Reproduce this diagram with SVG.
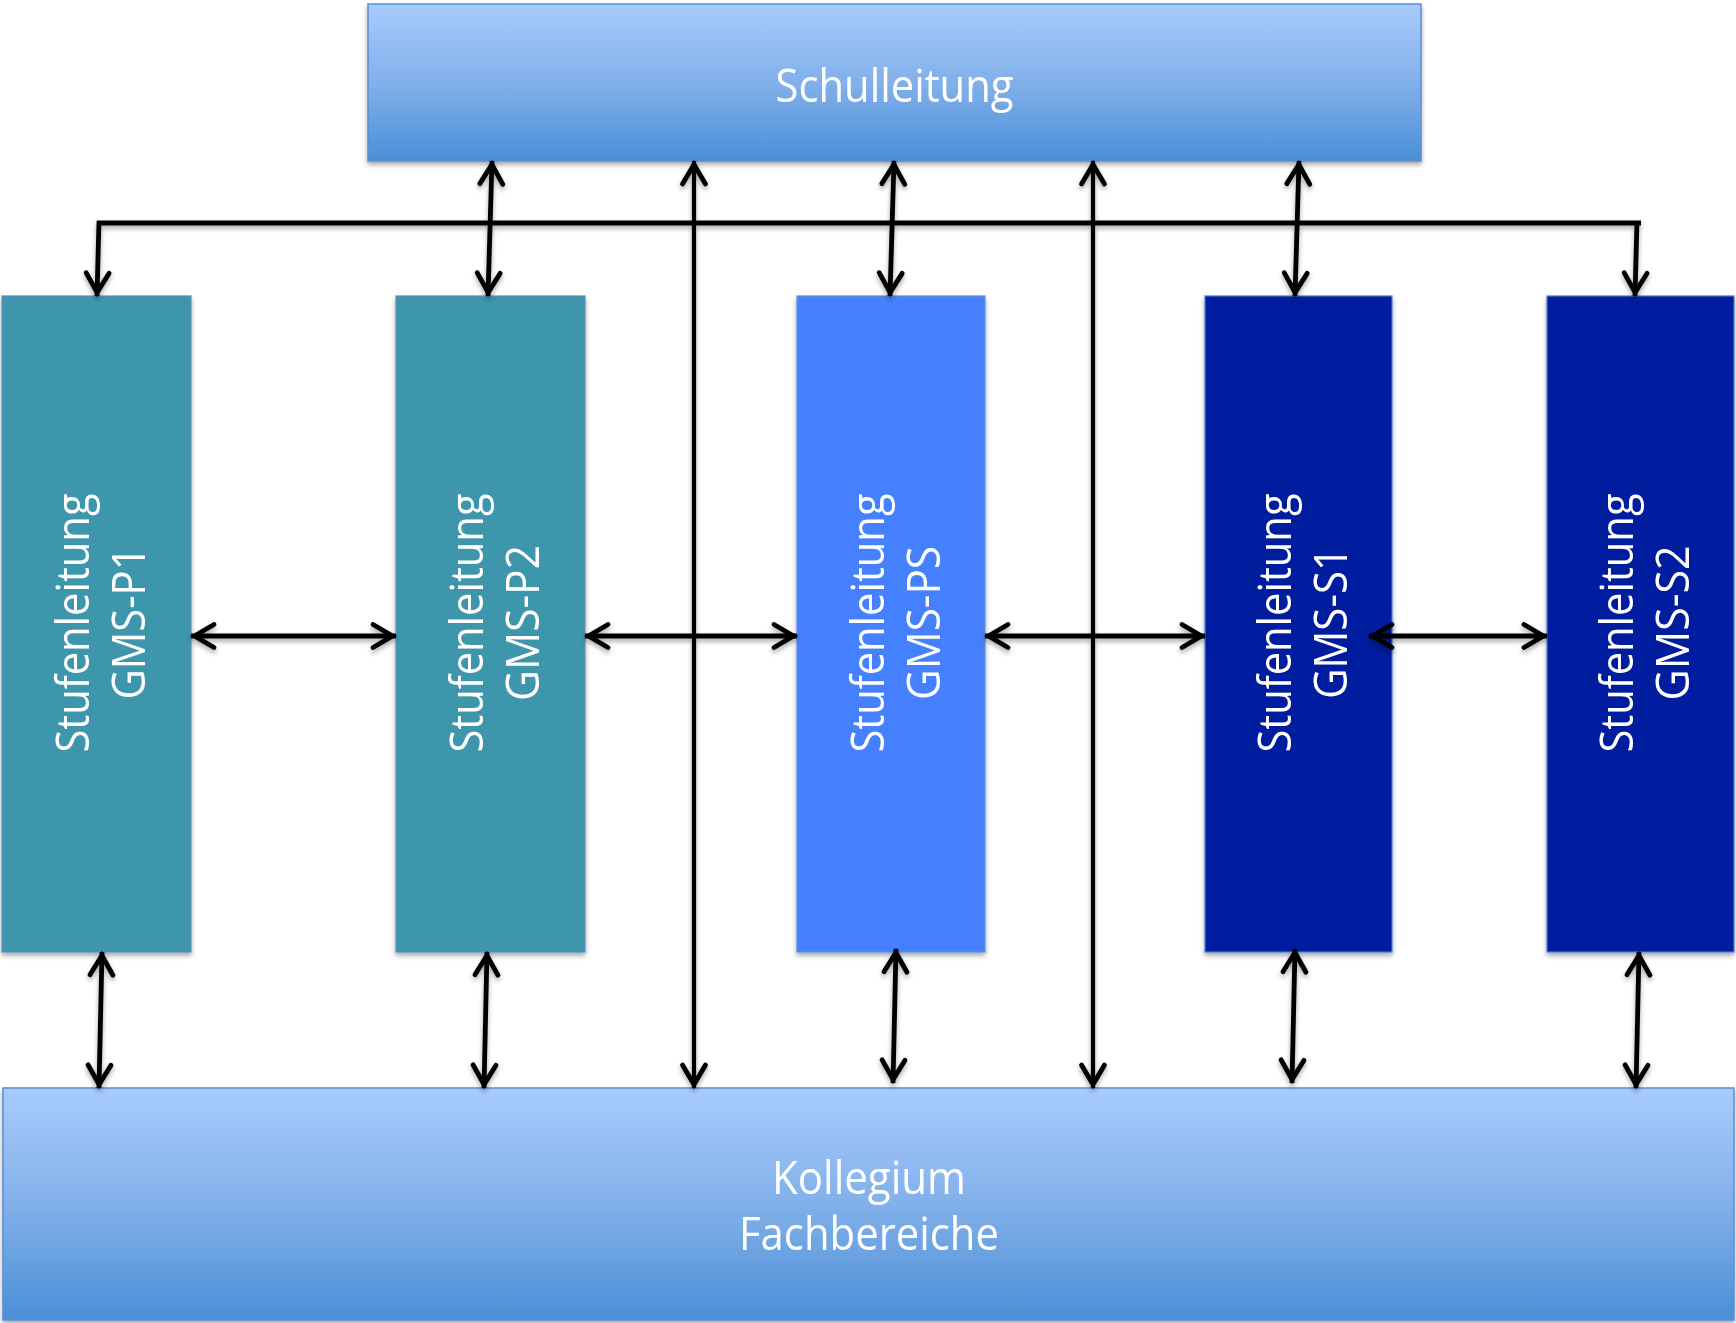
<svg xmlns="http://www.w3.org/2000/svg" width="1736" height="1323" viewBox="0 0 1736 1323">
  <defs>
    <linearGradient id="blueGrad" x1="0" y1="0" x2="0" y2="1">
      <stop offset="0" stop-color="#a9cbfe"/>
      <stop offset="0.5" stop-color="#82b0ea"/>
      <stop offset="1" stop-color="#4b8fd7"/>
    </linearGradient>
    <filter id="shadow" filterUnits="userSpaceOnUse" x="0" y="0" width="1736" height="1323">
      <feGaussianBlur in="SourceAlpha" stdDeviation="2.5"/>
      <feOffset dx="0" dy="3" result="b"/>
      <feComponentTransfer><feFuncA type="linear" slope="0.35"/></feComponentTransfer>
      <feMerge><feMergeNode/><feMergeNode in="SourceGraphic"/></feMerge>
    </filter>
    <marker id="ah" markerUnits="userSpaceOnUse" markerWidth="40" markerHeight="40" viewBox="-30 -20 40 40" refX="0" refY="0" orient="auto-start-reverse" overflow="visible">
      <path d="M-23,-11.5 L-3.5,0 L-23,11.5" fill="none" stroke="#000" stroke-width="4.8" stroke-linecap="round"/>
    </marker>
    <style>
      .wide { fill: url(#blueGrad); stroke: #5a8fd2; stroke-width: 1.5; }
      .teal { fill: #3e96ab; stroke: #5f8fc8; stroke-width: 1.2; }
      .mid { fill: #4481fe; stroke: #5f8fd8; stroke-width: 1.2; }
      .dark { fill: #011c9f; stroke: #4a7fcf; stroke-width: 1.2; }
      .lbl { font-family: "Open Sans", "Noto Sans", sans-serif; font-size: 46px; fill: #ffffff; text-anchor: middle; }
      .c { stroke: #000; stroke-width: 4.8; fill: none; }
      .thin { stroke-width: 4.2; }
      .both { marker-start: url(#ah); marker-end: url(#ah); }
      .end { marker-end: url(#ah); }
    </style>
  </defs>

  <g id="schulleitung" filter="url(#shadow)">
    <rect class="wide" x="368" y="4" width="1053" height="157"/>
    <text class="lbl" x="894.5" y="102" textLength="238" lengthAdjust="spacingAndGlyphs">Schulleitung</text>
  </g>

  <g id="kollegium" filter="url(#shadow)">
    <rect class="wide" x="3" y="1088" width="1731" height="232"/>
    <text class="lbl" x="869" y="1194" textLength="194" lengthAdjust="spacingAndGlyphs">Kollegium</text>
    <text class="lbl" x="869" y="1250" textLength="260" lengthAdjust="spacingAndGlyphs">Fachbereiche</text>
  </g>

  <g id="gms-p1" filter="url(#shadow)">
    <rect class="teal" x="2" y="296" width="189" height="656"/>
    <text class="lbl" transform="translate(89,623) rotate(-90)" textLength="259" lengthAdjust="spacingAndGlyphs">Stufenleitung</text>
    <text class="lbl" transform="translate(145,623) rotate(-90)" textLength="153" lengthAdjust="spacingAndGlyphs">GMS-P1</text>
  </g>

  <g id="gms-p2" filter="url(#shadow)">
    <rect class="teal" x="396" y="296" width="189" height="656"/>
    <text class="lbl" transform="translate(483,623) rotate(-90)" textLength="259" lengthAdjust="spacingAndGlyphs">Stufenleitung</text>
    <text class="lbl" transform="translate(539,623) rotate(-90)" textLength="156" lengthAdjust="spacingAndGlyphs">GMS-P2</text>
  </g>

  <g id="gms-ps" filter="url(#shadow)">
    <rect class="mid" x="797" y="296" width="188" height="656"/>
    <text class="lbl" transform="translate(884,623) rotate(-90)" textLength="259" lengthAdjust="spacingAndGlyphs">Stufenleitung</text>
    <text class="lbl" transform="translate(940,623) rotate(-90)" textLength="154" lengthAdjust="spacingAndGlyphs">GMS-PS</text>
  </g>

  <g id="gms-s1" filter="url(#shadow)">
    <rect class="dark" x="1205" y="296" width="187" height="656"/>
    <text class="lbl" transform="translate(1291,623) rotate(-90)" textLength="259" lengthAdjust="spacingAndGlyphs">Stufenleitung</text>
    <text class="lbl" transform="translate(1347,623) rotate(-90)" textLength="152" lengthAdjust="spacingAndGlyphs">GMS-S1</text>
  </g>

  <g id="gms-s2" filter="url(#shadow)">
    <rect class="dark" x="1547" y="296" width="187" height="656"/>
    <text class="lbl" transform="translate(1633,623) rotate(-90)" textLength="259" lengthAdjust="spacingAndGlyphs">Stufenleitung</text>
    <text class="lbl" transform="translate(1689,623) rotate(-90)" textLength="155" lengthAdjust="spacingAndGlyphs">GMS-S2</text>
  </g>

  <g id="connectors" filter="url(#shadow)">
    <!-- distribution bus -->
    <line class="c" x1="97" y1="223" x2="1641" y2="223"/>
    <line class="c end" x1="99" y1="221" x2="97" y2="296"/>
    <line class="c end" x1="1637" y1="221" x2="1635" y2="296"/>
    <!-- Schulleitung to Stufen -->
    <line class="c both" x1="492" y1="161" x2="488" y2="296"/>
    <line class="c both" x1="894" y1="161" x2="890" y2="296"/>
    <line class="c both" x1="1299" y1="161" x2="1295" y2="296"/>
    <!-- Schulleitung to Kollegium -->
    <line class="c thin both" x1="694" y1="161" x2="694" y2="1088"/>
    <line class="c thin both" x1="1093" y1="161" x2="1093" y2="1088"/>
    <!-- between Stufen -->
    <line class="c both" x1="191" y1="636" x2="396" y2="636"/>
    <line class="c both" x1="585" y1="636" x2="797" y2="636"/>
    <line class="c both" x1="985" y1="636" x2="1205" y2="636"/>
    <line class="c both" x1="1369" y1="636" x2="1547" y2="636"/>
    <!-- Stufen to Kollegium -->
    <line class="c both" x1="102" y1="952" x2="99" y2="1088"/>
    <line class="c both" x1="487" y1="952" x2="484" y2="1088"/>
    <line class="c both" x1="896" y1="949" x2="893" y2="1083"/>
    <line class="c both" x1="1295" y1="949" x2="1292" y2="1083"/>
    <line class="c both" x1="1639" y1="952" x2="1636" y2="1088"/>
  </g>
</svg>
